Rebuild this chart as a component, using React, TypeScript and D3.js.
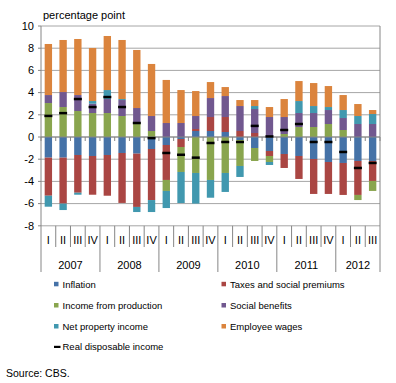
import React from "react";
import * as d3 from "d3";

const quarters = ["I","II","III","IV","I","II","III","IV","I","II","III","IV","I","II","III","IV","I","II","III","IV","I","II","III"];
const years = ["2007","2008","2009","2010","2011","2012"];
const yearQuarterCounts = [4,4,4,4,4,3];
const yTicks = [-8,-6,-4,-2,0,2,4,6,8,10];

const seriesNames = ["Inflation","Taxes and social premiums","Income from production","Social benefits","Net property income","Employee wages"];
const inflation = [-1.86,-1.86,-1.62,-1.71,-1.62,-1.44,-1.5,-1.08,-0.72,-0.18,0.54,0.54,0.45,-0.27,-0.99,-1.26,-1.53,-1.71,-1.98,-2.25,-2.34,-2.16,-2.16];
const taxes = [-3.43,-4.14,-3.4,-3.49,-3.67,-4.5,-4.8,-4.6,-3.15,-0.72,0.18,1.26,1.35,0.54,0.36,-0.45,-1.26,-2.07,-3.15,-2.88,-2.88,-3.06,-1.8];
const incomeProduction = [3.06,2.7,2.34,2.16,2.16,1.89,1.29,0.54,-0.99,-2.25,-3.24,-3.87,-3.24,-2.34,-1.17,-0.54,0.27,0.9,0.9,1.17,0.63,-0.46,-0.9];
const socialBenefits = [0.72,1.35,1.44,0.84,1.26,1.44,1.32,1.35,1.26,1.26,1.17,1.71,1.89,2.25,2.16,1.8,1.53,1.26,1.26,1.26,1.08,1.17,1.17];
const netProperty = [-0.99,-0.58,-0.18,0.24,0.81,0.09,-0.46,-1.08,-1.54,-2.8,-2.76,-1.6,-1.71,-0.99,0.27,-0.27,0,1.08,0.63,0.27,0.72,0.72,0.9];
const employeeWages = [4.6,4.69,5.05,4.78,4.87,5.32,5.23,4.69,3.88,2.97,2.25,1.44,0.81,0.54,0.54,0.9,1.62,1.8,2.07,1.89,1.35,1.08,0.36];
const realDisposable = [1.9,2.15,3.42,2.7,3.6,2.7,1.26,-0.1,-1.44,-1.6,-1.86,-0.54,-0.45,-0.45,1.0,0.05,0.63,1.17,-0.45,-0.45,-1.35,-2.79,-2.34];

const colors = ["#4572A7","#AA4643","#89A54E","#71588F","#4198AF","#DB843D"];

export default function App() {
  const W = 396, H = 383;
  const left = 41, right = 380, top = 26, bottom = 225.8;
  const idx = quarters.map((_, i) => i);
  const x = d3.scaleBand<number>().domain(idx).range([left, right]).paddingInner(0.5).paddingOuter(0.25);
  const step = x.step();
  const y = d3.scaleLinear().domain([-8, 10]).range([bottom, top]);
  const allSeries = [inflation, taxes, incomeProduction, socialBenefits, netProperty, employeeWages];
  const rows = idx.map(i => {
    const o: any = { i };
    seriesNames.forEach((k, s) => (o[k] = allSeries[s][i]));
    return o;
  });
  const stack = d3.stack<any>().keys(seriesNames).offset(d3.stackOffsetDiverging);
  const stacked = stack(rows);
  const font = "'Liberation Sans', Arial, sans-serif";
  const boundary = (i: number) => left + (i * (right - left)) / quarters.length;
  const yearBounds: number[] = [0];
  yearQuarterCounts.forEach(c => yearBounds.push(yearBounds[yearBounds.length - 1] + c));

  const legendItems = [
    { name: seriesNames[0], c: colors[0], col: 0, row: 0 },
    { name: seriesNames[1], c: colors[1], col: 1, row: 0 },
    { name: seriesNames[2], c: colors[2], col: 0, row: 1 },
    { name: seriesNames[3], c: colors[3], col: 1, row: 1 },
    { name: seriesNames[4], c: colors[4], col: 0, row: 2 },
    { name: seriesNames[5], c: colors[5], col: 1, row: 2 },
  ];
  const rowY = [284.3, 305.5, 326.5, 346.8];
  const colX = [54, 221.5];

  return (
    <svg width={W} height={H} style={{ position: "absolute", left: 0, top: 0, background: "#fff" }} fontFamily={font}>
      {/* gridlines */}
      {yTicks.map(t => (
        <line key={"g" + t} x1={left} x2={right} y1={y(t)} y2={y(t)} stroke="#A6A6A6" strokeWidth={1} />
      ))}
      {/* y ticks & labels */}
      {yTicks.map(t => (
        <g key={"t" + t}>
          <line x1={left - 3} x2={left} y1={y(t)} y2={y(t)} stroke="#868686" />
          <text x={34} y={y(t)} dy="0.35em" textAnchor="end" fontSize={11}>{t}</text>
        </g>
      ))}
      {/* bars */}
      {stacked.map((layer, s) => (
        <g key={"s" + s} fill={colors[s]}>
          {layer.map((d, i) => {
            const y0 = y(d[0]), y1 = y(d[1]);
            const h = Math.abs(y0 - y1);
            if (h < 0.01) return null;
            return <rect key={i} x={x(i)!} width={x.bandwidth()} y={Math.min(y0, y1)} height={h} />;
          })}
        </g>
      ))}
      {/* zero axis ticks */}
      <line x1={left} x2={right} y1={y(0)} y2={y(0)} stroke="#868686" strokeWidth={1} />
      {d3.range(quarters.length + 1).map(i => (
        <line key={"zt" + i} x1={boundary(i)} x2={boundary(i)} y1={y(0)} y2={y(0) + 4} stroke="#868686" />
      ))}
      {/* real disposable income markers */}
      {realDisposable.map((v, i) => (
        <rect key={"r" + i} x={x(i)! + x.bandwidth() / 2 - 4} width={8} y={y(v) - 1.25} height={2.5} fill="#000" />
      ))}
      {/* frame */}
      <line x1={left} x2={left} y1={top} y2={272} stroke="#868686" />
      <line x1={right} x2={right} y1={top} y2={272} stroke="#868686" />
      {/* category axis */}
      {d3.range(1, quarters.length).map(i => (
        <line key={"qb" + i} x1={boundary(i)} x2={boundary(i)} y1={bottom} y2={yearBounds.includes(i) ? 272 : 247} stroke="#868686" />
      ))}
      {quarters.map((q, i) => (
        <text key={"q" + i} x={x(i)! + x.bandwidth() / 2} y={240.5} dy="0.35em" textAnchor="middle" fontSize={11}>{q}</text>
      ))}
      {years.map((yr, k) => (
        <text key={"y" + k} x={(boundary(yearBounds[k]) + boundary(yearBounds[k + 1])) / 2} y={265} dy="0.35em" textAnchor="middle" fontSize={11}>{yr}</text>
      ))}
      <text x={43} y={15} dy="0.35em" fontSize={11}>percentage point</text>
      {/* legend */}
      {legendItems.map(l => (
        <g key={l.name}>
          <rect x={colX[l.col]} y={rowY[l.row] - 2.5} width={4.5} height={4.5} fill={l.c} />
          <text x={colX[l.col] + 8.5} y={rowY[l.row]} dy="0.35em" fontSize={9.5}>{l.name}</text>
        </g>
      ))}
      <rect x={colX[0]} y={rowY[3] - 1} width={6.5} height={2.2} fill="#000" />
      <text x={colX[0] + 8.5} y={rowY[3]} dy="0.35em" fontSize={9.5}>Real disposable income</text>
      <text x={6} y={373} dy="0.35em" fontSize={10.5}>Source: CBS.</text>
    </svg>
  );
}
